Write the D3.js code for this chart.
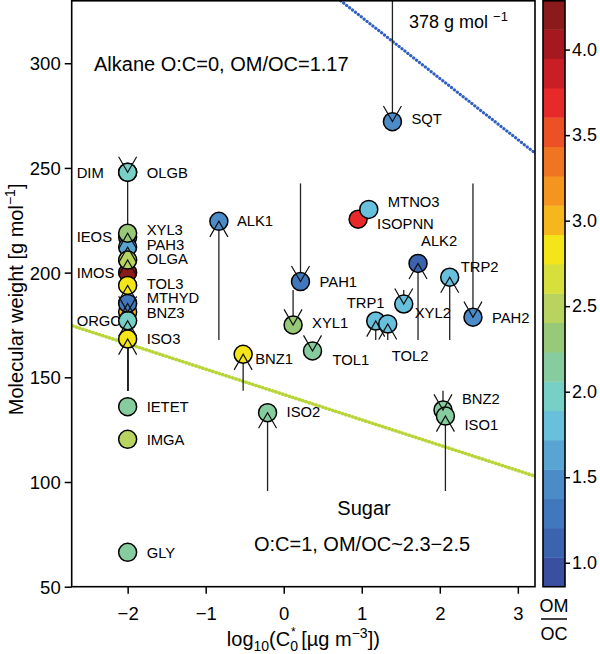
<!DOCTYPE html>
<html><head><meta charset="utf-8">
<script src="https://cdn.jsdelivr.net/npm/d3@7"></script>
<style>
body{margin:0;background:#fff}
svg{display:block}
text{font-family:"Liberation Sans",Arial,sans-serif;fill:#000}
</style>
</head><body>
<script>
// ---------------- data ----------------
const species = ["IEOS","DIM","OLGB","PAH3","XYL3","IMOS","OLGA","TOL3","BNZ3","MTHYD","ORGC","ISO3","IETET","IMGA","GLY",
  "SQT","ALK1","PAH1","XYL1","TOL1","BNZ1","ISO2","BNZ2","ISO1","TRP1","TOL2","XYL2","ALK2","TRP2","PAH2","ISOPNN","MTNO3"];
const logC0 = [-2,-2,-2,-2,-2,-2,-2,-2,-2,-2,-2,-2,-2,-2,-2,
  1.393,-0.831,0.215,0.120,0.369,-0.520,-0.207,2.041,2.072,1.179,1.333,1.538,1.721,2.127,2.425,0.953,1.090];
const molWeight = [217,247.9,247.9,212.2,218.8,200.0,206.0,193.9,181.2,185.3,177.0,168.3,136.0,120.4,66.4,
  272.1,224.5,195.7,175.0,162.6,161.0,133.1,134.4,131.5,176.9,175.5,185.0,204.4,197.8,178.7,225.5,230.2];
const omoc = [2.15,1.97,1.97,1.63,2.32,4.2,2.5,2.83,3.0,1.29,1.97,2.83,2.15,2.5,2.15,
  1.46,1.40,1.29,2.32,2.15,2.83,2.15,2.15,2.15,1.80,1.80,1.80,1.12,1.80,1.46,3.7,1.80];

// arrows: target species and starting molecular weight
const arrowTarget = ["SQT","ALK1","PAH1","XYL1","TOL1","BNZ1","ISO2","BNZ2","ISO1","TRP1","TOL2","XYL2","ALK2","TRP2","PAH2",
  "XYL3","PAH3","OLGA","TOL3","MTHYD","ORGC","ISO3","OLGB","BNZ3"];
const arrowFromMW = [380,167.8,242.6,191.7,166,143.6,95.7,143.6,95.7,167.8,167.8,191.7,167.8,167.8,242.6,
  143.6,143.6,143.6,143.6,143.6,143.6,143.6,252,185];
// plain vertical link in the C0*=0.01 column
const linkX = [-2];
const linkFrom = [143.6];
const linkTo = [247.9];

// reference lines (end points)
const alkaneX = [0.718, 3.22];
const alkaneMW = [330.2, 257.1];
const sugarX = [-2.717, 3.22];
const sugarMW = [174.7, 102.8];

const xTicks = [-2,-1,0,1,2,3];
const yTicks = [50,100,150,200,250,300];
const cbTicks = [1.0,1.5,2.0,2.5,3.0,3.5,4.0];
const cbRange = [0.86, 4.29];

// ---------------- style / layout ----------------
const palette = ['#3a4fa0','#3b63ae','#4177bd','#4b8bc7','#58a4d2','#69c0dc','#78cfc6','#87cc9e','#98c978','#b8d360',
  '#d7df3c','#f4e519','#f5b71b','#f4951f','#f07522','#ec5126','#e8292a','#c91e25','#a6181f','#8a1a1c'];
const labelNudge = {
  IEOS:[-51,0,"start"], DIM:[-51,0,"start"], IMOS:[-51,0,"start"], ORGC:[-51,0,"start"],
  OLGB:[19,0], XYL3:[19,-4], PAH3:[19,-2], OLGA:[19,-1], TOL3:[19,-2], MTHYD:[19,-6], BNZ3:[19,1],
  ISO3:[19,0], IETET:[19,0], IMGA:[19,0], GLY:[19,0],
  SQT:[19,-3], ALK1:[18,-1], PAH1:[19,0], XYL1:[19,-2], TOL1:[20,9], BNZ1:[12,4], ISO2:[19,-1],
  BNZ2:[19,-11], ISO1:[19,9], TRP1:[-29,-18], TOL2:[4,32], XYL2:[11,9], ALK2:[3,-23], TRP2:[11,-11],
  PAH2:[19,0], ISOPNN:[19,4], MTNO3:[19,-8]
};

const W = 600, H = 654;
const svg = d3.select("body").append("svg").attr("width", W).attr("height", H);

const x = d3.scaleLinear().domain([-2.717, 3.22]).range([71.7, 535]);
const y = d3.scaleLinear().domain([50, 330.2]).range([586.7, 0]);
const cb = d3.scaleLinear().domain(cbRange).range([586.7, 0]);
const nBins = palette.length;
const binStep = (cbRange[1]-cbRange[0]) / nBins;
const colorOf = v => palette[Math.max(0, Math.min(nBins-1, Math.floor((v-cbRange[0])/binStep)))];

const pts = species.map((s,i)=>({name:s, x:logC0[i], mw:molWeight[i], c:omoc[i]}));
const byName = Object.fromEntries(pts.map(p=>[p.name,p]));

svg.append("clipPath").attr("id","plotclip").append("rect")
  .attr("x", x.range()[0]).attr("y", 0).attr("width", x.range()[1]-x.range()[0]).attr("height", y.range()[0]);

const plot = svg.append("g").attr("clip-path","url(#plotclip)");

// reference lines
const line = d3.line().x(d=>x(d[0])).y(d=>y(d[1]));
function extend(xs, ys){ // extend the segment across the plot for clipping
  const s = (ys[1]-ys[0])/(xs[1]-xs[0]);
  const x0 = -3, x1 = 3.5;
  return [[x0, ys[0]+s*(x0-xs[0])],[x1, ys[0]+s*(x1-xs[0])]];
}
plot.append("path").attr("d", line(extend(sugarX, sugarMW)))
  .attr("fill","none").attr("stroke","#b8d538").attr("stroke-width",3.6)
  .attr("stroke-linecap","round").attr("stroke-dasharray","0.1,3.4");
plot.append("path").attr("d", line(extend(alkaneX, alkaneMW)))
  .attr("fill","none").attr("stroke","#2f5fc0").attr("stroke-width",3.2)
  .attr("stroke-linecap","round").attr("stroke-dasharray","0.1,3.6");

// links & arrow shafts
const arrows = arrowTarget.map((t,i)=>({x:byName[t].x, from:arrowFromMW[i], to:byName[t].mw}));
linkX.forEach((lx,i)=>{
  plot.append("line").attr("x1",x(lx)).attr("x2",x(lx)).attr("y1",y(linkFrom[i])).attr("y2",y(linkTo[i]))
    .attr("stroke","#222").attr("stroke-width",1.3);
});
plot.selectAll("line.shaft").data(arrows).join("line").attr("class","shaft")
  .attr("x1",d=>x(d.x)).attr("x2",d=>x(d.x)).attr("y1",d=>y(d.from)).attr("y2",d=>y(d.to))
  .attr("stroke","#222").attr("stroke-width",1.3);

// points
plot.selectAll("circle.pt").data(pts).join("circle").attr("class","pt")
  .attr("cx",d=>x(d.x)).attr("cy",d=>y(d.mw)).attr("r",9)
  .attr("fill",d=>colorOf(d.c)).attr("stroke","#000").attr("stroke-width",1.5);

// arrow heads (open V) on top
const headLen = 18, headAng = Math.PI/6;
plot.selectAll("path.head").data(arrows).join("path").attr("class","head")
  .attr("d", d=>{
    const tx = x(d.x), ty = y(d.to);
    const dir = y(d.from) > ty ? 1 : -1;
    const ang = Math.atan2(dir, 0);
    const a1 = ang + headAng, a2 = ang - headAng;
    return `M${tx+headLen*Math.cos(a1)},${ty+headLen*Math.sin(a1)}L${tx},${ty}L${tx+headLen*Math.cos(a2)},${ty+headLen*Math.sin(a2)}`;
  })
  .attr("fill","none").attr("stroke","#111").attr("stroke-width",1.2);

// point labels
svg.selectAll("text.lab").data(pts).join("text").attr("class","lab")
  .attr("x",d=>x(d.x)+labelNudge[d.name][0])
  .attr("y",d=>y(d.mw)+labelNudge[d.name][1])
  .attr("dy","0.36em")
  .attr("text-anchor",d=>labelNudge[d.name][2]||"start")
  .style("font-size","14.8px").text(d=>d.name);

// frame
svg.append("rect").attr("x",x.range()[0]).attr("y",0.8).attr("width",x.range()[1]-x.range()[0])
  .attr("height",y.range()[0]-0.8).attr("fill","none").attr("stroke","#000").attr("stroke-width",1.6);

// axes
const xAxis = svg.append("g").attr("transform",`translate(0,${y.range()[0]})`)
  .call(d3.axisBottom(x).tickValues(xTicks).tickFormat(d3.format("d")).tickSize(7).tickPadding(13));
const yAxis = svg.append("g").attr("transform",`translate(${x.range()[0]},0)`)
  .call(d3.axisLeft(y).tickValues(yTicks).tickFormat(d3.format("d")).tickSize(7).tickPadding(4));
[xAxis,yAxis].forEach(g=>{
  g.select(".domain").remove();
  g.selectAll(".tick line").attr("stroke","#000").attr("stroke-width",1.5);
  g.selectAll(".tick text").style("font-size","18.5px").style("font-family","'Liberation Sans',Arial,sans-serif").attr("fill","#000");
});
yAxis.selectAll(".tick text").attr("dy","0.36em");

// axis titles
const xt = svg.append("text").attr("x",(x.range()[0]+x.range()[1])/2).attr("y",646)
  .attr("text-anchor","middle").style("font-size","20px");
xt.append("tspan").text("log");
xt.append("tspan").attr("dy",5).style("font-size","14px").text("10");
xt.append("tspan").attr("dy",-5).text("(C");
xt.append("tspan").attr("dy",5).style("font-size","14px").text("0");
xt.append("tspan").attr("dx",-7).attr("dy",-15).style("font-size","12px").text("*");
xt.append("tspan").attr("dy",10).text("\u00a0[µg m");
xt.append("tspan").attr("dy",-8).style("font-size","14px").text("−3");
xt.append("tspan").attr("dy",8).text("])");

const yt = svg.append("text").attr("transform",`translate(23,${y.range()[0]/2+6}) rotate(-90)`)
  .attr("text-anchor","middle").style("font-size","20px");
yt.append("tspan").text("Molecular weight [g mol");
yt.append("tspan").attr("dy",-8).style("font-size","14px").text("−1");
yt.append("tspan").attr("dy",8).text("]");

// annotations
svg.append("text").attr("x",94).attr("y",64).attr("dy","0.36em").style("font-size","20px").text("Alkane O:C=0, OM/OC=1.17");
const t378 = svg.append("text").attr("x",409).attr("y",22).attr("dy","0.36em").style("font-size","18px");
t378.append("tspan").text("378 g mol\u00a0");
t378.append("tspan").attr("dy",-7).style("font-size","13px").text("−1");
svg.append("text").attr("x",364).attr("y",508).attr("dy","0.36em").attr("text-anchor","middle").style("font-size","20px").text("Sugar");
svg.append("text").attr("x",362).attr("y",544).attr("dy","0.36em").attr("text-anchor","middle").style("font-size","20px").text("O:C=1, OM/OC~2.3−2.5");

// colour bar
const cbX = 543, cbW = 22;
const cg = svg.append("g");
cg.selectAll("rect.bin").data(palette).join("rect").attr("class","bin")
  .attr("x",cbX).attr("width",cbW)
  .attr("y",(d,i)=>cb(cbRange[0]+(i+1)*binStep))
  .attr("height",(d,i)=>cb(cbRange[0]+i*binStep)-cb(cbRange[0]+(i+1)*binStep)+0.4)
  .attr("fill",d=>d);
cg.append("rect").attr("x",cbX).attr("y",cb(cbRange[1])+0.8).attr("width",cbW).attr("height",cb(cbRange[0])-cb(cbRange[1])-0.8)
  .attr("fill","none").attr("stroke","#000").attr("stroke-width",1.6);
const cbAxis = cg.append("g").attr("transform",`translate(${cbX+cbW},0)`)
  .call(d3.axisRight(cb).tickValues(cbTicks).tickFormat(d3.format(".1f")).tickSize(5).tickPadding(2));
cbAxis.select(".domain").remove();
cbAxis.selectAll(".tick line").attr("stroke","#000").attr("stroke-width",1.5);
cbAxis.selectAll(".tick text").style("font-size","18px").style("font-family","'Liberation Sans',Arial,sans-serif").attr("fill","#000");
cg.append("text").attr("x",cbX+cbW/2).attr("y",606).attr("dy","0.36em").attr("text-anchor","middle").style("font-size","18px").text("OM");
cg.append("line").attr("x1",cbX-2).attr("x2",cbX+cbW+2).attr("y1",619).attr("y2",619).attr("stroke","#000").attr("stroke-width",1.5);
cg.append("text").attr("x",cbX+cbW/2).attr("y",634).attr("dy","0.36em").attr("text-anchor","middle").style("font-size","18px").text("OC");
</script>
</body></html>
